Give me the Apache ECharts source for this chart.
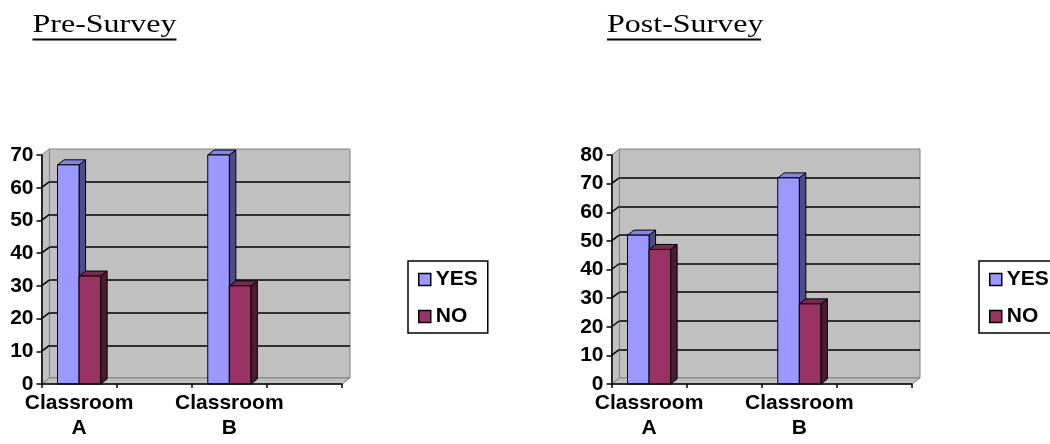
<!DOCTYPE html>
<html>
<head>
<meta charset="utf-8">
<title>Pre-Survey / Post-Survey</title>
<script src="https://cdn.jsdelivr.net/npm/echarts@6/dist/echarts.min.js"></script>
<style>
  html, body { margin: 0; padding: 0; background: #fff; }
  #chart { width: 1050px; height: 444px; }
</style>
</head>
<body>
<div id="chart"></div>
<script>
// answers per classroom
var classrooms = ['Classroom A', 'Classroom B'];
var preYes = [67, 70];
var preNo = [33, 30];
var postYes = [52, 72];
var postNo = [47, 28];
var preMax = 70;
var postMax = 80;
var tickStep = 10;

// excel left an empty slot after each classroom
var slots = [];
classrooms.forEach(function (c) {
    slots.push(c.replace(' ', '\n'));
    slots.push('');
});
function toSlots(values) {
    return values.map(function (v, i) { return [i * 2, v]; });
}

var FONT = 'Liberation Sans';
var WALL_DX = 8, WALL_DY = 6;
var BAR_DX = 6.5, BAR_DY = 5;
var COLORS = {
    YES: { face: '#9999FF', top: '#8585E6', side: '#4D4D85' },
    NO: { face: '#993366', top: '#7A2952', side: '#4D1A33' }
};

function barRenderer(name, side) {
    var c = COLORS[name];
    return function (params, api) {
        var base = api.coord([api.value(0), 0]);
        var top = api.coord([api.value(0), api.value(1)]);
        var w = api.size([1, 0])[0] * 0.287;
        var x0 = side === 'left' ? base[0] - w : base[0];
        var x1 = x0 + w;
        var y0 = top[1], y1 = base[1];
        var edge = { stroke: '#000', lineWidth: 1 };
        return {
            type: 'group',
            children: [
                {
                    type: 'polygon',
                    shape: { points: [[x1, y0], [x1 + BAR_DX, y0 - BAR_DY], [x1 + BAR_DX, y1 - BAR_DY], [x1, y1]] },
                    style: Object.assign({ fill: c.side }, edge)
                },
                {
                    type: 'polygon',
                    shape: { points: [[x0, y0], [x0 + BAR_DX, y0 - BAR_DY], [x1 + BAR_DX, y0 - BAR_DY], [x1, y0]] },
                    style: Object.assign({ fill: c.top }, edge)
                },
                {
                    type: 'rect',
                    shape: { x: x0, y: y0, width: w, height: y1 - y0 },
                    style: Object.assign({ fill: c.face }, edge)
                }
            ]
        };
    };
}

// floor, left side wall and the gridlines running across the side wall
function wallRenderer(max) {
    return function (params, api) {
        var bw = api.size([1, 0])[0];
        var p0 = api.coord([0, 0]);
        var pN = api.coord([slots.length - 1, 0]);
        var xl = p0[0] - bw / 2, xr = pN[0] + bw / 2;
        var yb = p0[1], yt = api.coord([0, max])[1];
        var wall = { fill: '#C0C0C0', stroke: '#808080', lineWidth: 1 };
        var children = [
            {
                type: 'polygon',
                shape: { points: [[xl, yb], [xr, yb], [xr + WALL_DX, yb - WALL_DY], [xl + WALL_DX, yb - WALL_DY]] },
                style: wall
            },
            {
                type: 'polygon',
                shape: { points: [[xl, yb], [xl, yt], [xl + WALL_DX, yt - WALL_DY], [xl + WALL_DX, yb - WALL_DY]] },
                style: wall
            }
        ];
        for (var v = tickStep; v < max; v += tickStep) {
            var y = api.coord([0, v])[1];
            children.push({
                type: 'line',
                shape: { x1: xl, y1: y, x2: xl + WALL_DX, y2: y - WALL_DY },
                style: { stroke: '#000', lineWidth: 1.5 }
            });
        }
        return { type: 'group', children: children };
    };
}

var FRONT_TOP = 155, FRONT_H = 229, FRONT_W = 300.5;
var chartLefts = [41.5, 611.5];

var grids = [], xAxes = [], yAxes = [], series = [];
[[preMax, preYes, preNo], [postMax, postYes, postNo]].forEach(function (set, k) {
    var max = set[0];
    var left = chartLefts[k];
    var front = k * 2, back = k * 2 + 1;
    grids.push({ left: left, top: FRONT_TOP, width: FRONT_W, height: FRONT_H, outerBoundsMode: 'none' });
    grids.push({
        left: left + WALL_DX, top: FRONT_TOP - WALL_DY, width: FRONT_W, height: FRONT_H,
        outerBoundsMode: 'none', show: true, backgroundColor: '#C0C0C0',
        borderColor: '#808080', borderWidth: 1
    });
    xAxes.push({
        gridIndex: front, type: 'category', data: slots, z: 5,
        axisLine: { lineStyle: { color: '#000', width: 1.5 } },
        axisTick: { show: true, interval: 0, length: 4, lineStyle: { color: '#000', width: 1.5 } },
        axisLabel: {
            interval: 0, margin: 7, color: '#000', fontFamily: FONT, fontWeight: 'bold',
            fontSize: 21, lineHeight: 25
        },
        splitLine: { show: false }
    });
    xAxes.push({ gridIndex: back, type: 'category', data: slots, show: false });
    yAxes.push({
        gridIndex: front, type: 'value', min: 0, max: max, interval: tickStep, z: 5,
        axisLine: { show: true, lineStyle: { color: '#000', width: 1.5 } },
        axisTick: { show: true, length: 5, lineStyle: { color: '#000', width: 1.5 } },
        axisLabel: { margin: 8, color: '#000', fontFamily: FONT, fontWeight: 'bold', fontSize: 21 },
        splitLine: { show: false }
    });
    yAxes.push({
        gridIndex: back, type: 'value', min: 0, max: max, interval: tickStep,
        axisLine: { show: false }, axisTick: { show: false }, axisLabel: { show: false },
        splitLine: { show: true, showMinLine: false, showMaxLine: false, lineStyle: { color: '#000', width: 1.5 } }
    });
    series.push({
        type: 'custom', name: 'walls', xAxisIndex: front, yAxisIndex: front, z: 1,
        silent: true, renderItem: wallRenderer(max), data: [[0, 0]]
    });
    series.push({
        type: 'custom', name: 'YES', xAxisIndex: front, yAxisIndex: front, z: 2,
        itemStyle: { color: COLORS.YES.face },
        renderItem: barRenderer('YES', 'left'), data: toSlots(set[1])
    });
    series.push({
        type: 'custom', name: 'NO', xAxisIndex: front, yAxisIndex: front, z: 3,
        itemStyle: { color: COLORS.NO.face },
        renderItem: barRenderer('NO', 'right'), data: toSlots(set[2])
    });
});

function legendAt(left) {
    return {
        data: ['YES', 'NO'], orient: 'vertical', left: left, top: 261,
        padding: [8, 10, 6, 10], itemGap: 16, itemWidth: 12, itemHeight: 12,
        borderColor: '#000', borderWidth: 1.5, backgroundColor: '#fff',
        icon: 'rect', selectedMode: false,
        itemStyle: { borderColor: '#000', borderWidth: 1.5 },
        textStyle: { color: '#000', fontFamily: FONT, fontWeight: 'bold', fontSize: 21 }
    };
}

function titleAt(x, text, width) {
    return [
        {
            type: 'text', x: x, y: 13, scaleX: 1.28,
            style: {
                text: text, fontFamily: 'Liberation Serif', fontSize: 25,
                fill: '#000', verticalAlign: 'top'
            }
        },
        {
            type: 'line',
            shape: { x1: x, y1: 39.5, x2: x + width, y2: 39.5 },
            style: { stroke: '#000', lineWidth: 2 }
        }
    ];
}

var myChart = echarts.init(document.getElementById('chart'), null, { renderer: 'canvas' });
myChart.setOption({
    backgroundColor: '#fff',
    animation: false,
    grid: grids,
    xAxis: xAxes,
    yAxis: yAxes,
    legend: [legendAt(408), legendAt(979)],
    graphic: titleAt(32.5, 'Pre-Survey', 144).concat(titleAt(607, 'Post-Survey', 154)),
    series: series
});
</script>
</body>
</html>
